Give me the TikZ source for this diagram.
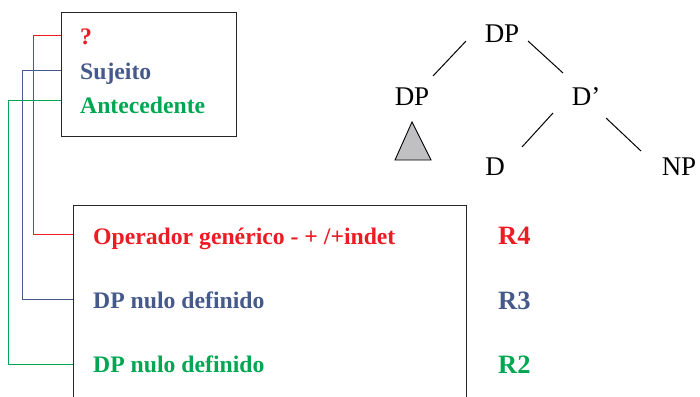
\documentclass[tikz,border=0pt]{standalone}
\usepackage{fontspec}
\setmainfont{Liberation Serif}
\usetikzlibrary{calc}
\definecolor{cred}{HTML}{ED1C24}
\definecolor{cblue}{HTML}{45598A}
\definecolor{cgreen}{HTML}{00A651}
\definecolor{tgray}{HTML}{C0C0C2}
\tikzset{
  lbl/.style={inner sep=0pt, anchor=base west, font=\fontsize{23.7}{28}\selectfont\bfseries},
  rlbl/.style={inner sep=0pt, anchor=base west, font=\fontsize{26.5}{31}\selectfont\bfseries},
  tlbl/.style={inner sep=0pt, anchor=base, font=\fontsize{27}{32}\selectfont},
  frame/.style={draw=black!85, line width=1.4pt, inner sep=0pt, anchor=north west},
  conn/.style={line width=0.9pt},
  branch/.style={line width=1pt}
}
\begin{document}
\begin{tikzpicture}[x=1pt,y=-1pt]
\useasboundingbox (0,0) rectangle (700,396);
% boxes
\node[frame, minimum width=175pt, minimum height=124pt] (box1) at (61,12) {};
\node[frame, minimum width=393pt, minimum height=230pt] (box2) at (73,205) {};
% top box texts
\node[lbl, text=cred]   (q)   at (80,45)  {?};
\node[lbl, text=cblue]  (suj) at (80,79)  {Sujeito};
\node[lbl, text=cgreen] (ant) at (80,113) {Antecedente};
% bottom box texts
\node[lbl, text=cred]   (op)  at (93,244) {Operador genérico - + /+indet};
\node[lbl, text=cblue]  (dp1) at (93,308) {DP nulo definido};
\node[lbl, text=cgreen] (dp2) at (93,372) {DP nulo definido};
% R labels
\node[rlbl, text=cred]   (r4) at (498,244) {R4};
\node[rlbl, text=cblue]  (r3) at (498,309) {R3};
\node[rlbl, text=cgreen] (r2) at (498,373) {R2};
% connectors
\draw[conn, cred]   ($(box1.north west)+(0,23)$) -- ++(-28,0) |- ($(box2.north west)+(0,29)$);
\draw[conn, cblue]  ($(box1.north west)+(0,58)$) -- ++(-39,0) |- ($(box2.north west)+(0,94)$);
\draw[conn, cgreen] ($(box1.north west)+(0,88)$) -- ++(-53,0) |- ($(box2.north west)+(0,159)$);
% tree
\node[tlbl] (top) at (502,42)  {DP};
\node[tlbl] (dpl) at (412,105) {DP};
\node[tlbl] (dpr) at (586,105) {D’};
\node[tlbl] (d)   at (495,175) {D};
\node[tlbl] (np)  at (679,175) {NP};
\draw[branch] ($(top.base)+(-36,-1)$) -- ($(dpl.base)+(21,-29)$);
\draw[branch] ($(top.base)+(26,-1)$) -- ($(dpr.base)+(-23,-32)$);
\draw[branch] ($(dpr.base)+(-33,8)$) -- ($(d.base)+(27,-28)$);
\draw[branch] ($(dpr.base)+(20,13)$) -- ($(np.base)+(-38,-24)$);
\draw[line width=0.9pt, fill=tgray] ($(dpl.base)+(0,17)$) -- ($(dpl.base)+(-17,55)$) -- ($(dpl.base)+(19,55)$) -- cycle;
\end{tikzpicture}
\end{document}
